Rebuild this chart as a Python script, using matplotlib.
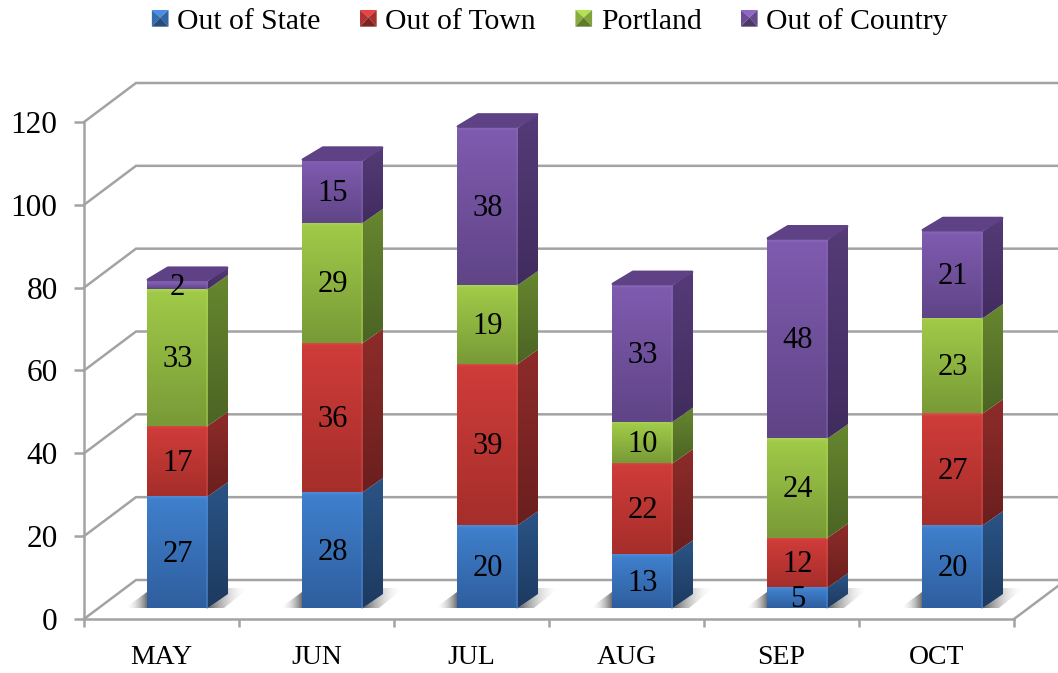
import numpy as np
import matplotlib
matplotlib.use("Agg")
import matplotlib.pyplot as plt
from matplotlib.colors import LinearSegmentedColormap, to_rgb
from matplotlib.legend_handler import HandlerBase
from matplotlib.patches import Patch, Polygon

months = ["MAY", "JUN", "JUL", "AUG", "SEP", "OCT"]
out_of_state = [27, 28, 20, 13, 5, 20]
out_of_town = [17, 36, 39, 22, 12, 27]
portland = [33, 29, 19, 10, 24, 23]
out_of_country = [2, 15, 38, 33, 48, 21]

series_names = ["Out of State", "Out of Town", "Portland", "Out of Country"]
series_values = [out_of_state, out_of_town, portland, out_of_country]

# front top, front bottom, side top, side bottom, highlight
palette = [
    ("#3F7FCC", "#2F5E9E", "#2A5486", "#1D3A60", "#4F8CD6"),
    ("#CF3C39", "#A52E2B", "#8E2C2A", "#6A1F1E", "#D8504C"),
    ("#A0CA48", "#789A37", "#67872F", "#4B6424", "#ADD458"),
    ("#7F5BAF", "#5F4486", "#553B78", "#412C5E", "#8A68B8"),
]
top_color = "#5E4285"
grid_color = "#A3A3A3"

plt.rcParams['font.family'] = ['Liberation Serif', 'DejaVu Serif']

W, H = 1058, 673
fig = plt.figure(figsize=(W / 100, H / 100), dpi=100)
ax = fig.add_axes([84 / W, (H - 619) / H, 930 / W, 497 / H])

# size of one pixel in data units
px = 1 / 155
py = 120 / 497

back_x, back_y = 52 * px, 39 * py  # wall depth
bar_w = 61 * px
bar_off_x, bar_off_y = 16 * px, 11 * py  # bar front, set in from the floor edge
bar_dx, bar_dy = 20 * px, 14 * py  # bar depth

yticks = [0, 20, 40, 60, 80, 100, 120]


def gradient_face(points, stops, z):
    pts = np.array(points)
    cmap = LinearSegmentedColormap.from_list("f", stops)
    grad = np.linspace(1, 0, 128).reshape(-1, 1)
    im = ax.imshow(grad, cmap=cmap, aspect="auto", zorder=z, vmin=0, vmax=1,
                   extent=[pts[:, 0].min(), pts[:, 0].max(), pts[:, 1].min(), pts[:, 1].max()])
    clip = Polygon(pts, transform=ax.transData)
    im.set_clip_box(fig.bbox)
    im.set_clip_path(clip)


def shadow_face(points, a_left, a_right, z):
    pts = np.array(points)
    rgba = np.zeros((1, 64, 4))
    rgba[..., :3] = 0.3
    rgba[..., 3] = np.linspace(a_left ** 0.5, a_right ** 0.5, 64) ** 2  # fades out softly
    im = ax.imshow(rgba, aspect="auto", zorder=z,
                   extent=[pts[:, 0].min(), pts[:, 0].max(), pts[:, 1].min(), pts[:, 1].max()])
    clip = Polygon(pts, transform=ax.transData)
    im.set_clip_box(fig.bbox)
    im.set_clip_path(clip)


# back walls and floor
for t in yticks:
    ax.plot([-0.5, -0.5 + back_x, 6.0], [t, t + back_y, t + back_y],
            color=grid_color, lw=1.8, zorder=1, clip_on=False, solid_joinstyle="miter")
ax.plot([5.5, 5.5 + back_x], [0, back_y], color=grid_color, lw=1.8, zorder=1, clip_on=False)

# bars
for i in range(len(months)):
    x0 = i + bar_off_x - bar_w / 2
    x1 = x0 + bar_w
    base = bar_off_y

    # floor shadow either side of the bar
    shadow_face([(x0 - 22 * px, base), (x0, base + 16 * py), (x0, base)], 0.0, 0.8, 2)
    shadow_face([(x1, base), (x1 + bar_dx, base + bar_dy), (x1 + bar_dx, base + 20 * py),
                 (x1 + 41 * px, base + 20 * py), (x1 + 16 * px, base)], 0.9, 0.0, 2)

    bottom = base
    for s, values in enumerate(series_values):
        v = values[i]
        top = bottom + v
        c1, c2, c3, c4, hi = palette[s]
        edge = min(0.5, 3 * py / v)  # soft lighter band along the top of a segment
        gradient_face([(x0, bottom), (x1, bottom), (x1, top), (x0, top)],
                      [(0, c2), (1 - edge, c1), (1, hi)], 3)
        gradient_face([(x1, bottom), (x1 + bar_dx, bottom + bar_dy), (x1 + bar_dx, top + bar_dy), (x1, top)],
                      [(0, c4), (1, c3)], 3)
        ax.plot([x1 - px, x1 - px], [bottom, top], color=hi, lw=1.2, alpha=0.5, zorder=4, clip_on=False)
        ax.text(i + bar_off_x, bottom + v / 2 - 0.5, str(v), ha="center", va="center",
                fontsize=22, color="black", zorder=10)
        bottom = top

    ax.add_patch(Polygon([(x0 + px, bottom + py), (x1 - px, bottom + py), (x1 + bar_dx - px, bottom + bar_dy - py),
                          (x0 + bar_dx + px, bottom + bar_dy - py)], closed=True, facecolor=top_color,
                         edgecolor=top_color, lw=2, joinstyle="round", zorder=5, clip_on=False))

ax.set_xlim(-0.5, 5.5)
ax.set_ylim(0, 120)
ax.patch.set_visible(False)
for side in ["top", "right"]:
    ax.spines[side].set_visible(False)
for side in ["left", "bottom"]:
    ax.spines[side].set_color(grid_color)
    ax.spines[side].set_linewidth(1.8)
    ax.spines[side].set_zorder(1.5)

ax.set_yticks(yticks)
ax.set_xticks(np.arange(-0.5, 6, 1))
ax.set_xticklabels([])
ax.set_xticks(range(len(months)), months, minor=True)
ax.tick_params(axis="y", length=7, width=1.8, color=grid_color, labelsize=22.5, pad=12)
ax.tick_params(axis="x", which="major", length=6, width=1.8, color=grid_color)
ax.tick_params(axis="x", which="minor", length=0, labelsize=20, pad=19)


class PyramidHandler(HandlerBase):
    def create_artists(self, legend, orig_handle, xdescent, ydescent, width, height, fontsize, trans):
        base = np.array(to_rgb(orig_handle.get_facecolor()))
        s = 12
        x, y = -xdescent + (width - s) / 2, -ydescent + (height - s) / 2
        c = (x + s / 2, y + s * 0.55)
        a, b, d, e = (x, y), (x + s, y), (x + s, y + s), (x, y + s)
        faces = [([e, d, c], 1.12), ([a, e, c], 0.85), ([b, d, c], 0.8), ([a, b, c], 0.6)]
        out = []
        for pts, k in faces:
            out.append(Polygon(pts, closed=True, facecolor=np.clip(base * k, 0, 1),
                               edgecolor="none", transform=trans))
        return out


handles = [Patch(facecolor=palette[s][0], label=series_names[s]) for s in range(4)]
fig.legend(handles=handles, loc="upper center", bbox_to_anchor=(550 / W, 1.028), ncol=4, frameon=False,
           fontsize=21.3, handler_map={Patch: PyramidHandler()}, handlelength=0.55, handleheight=0.6,
           handletextpad=0.3, columnspacing=1.34)

fig.savefig("out.png", dpi=100)
